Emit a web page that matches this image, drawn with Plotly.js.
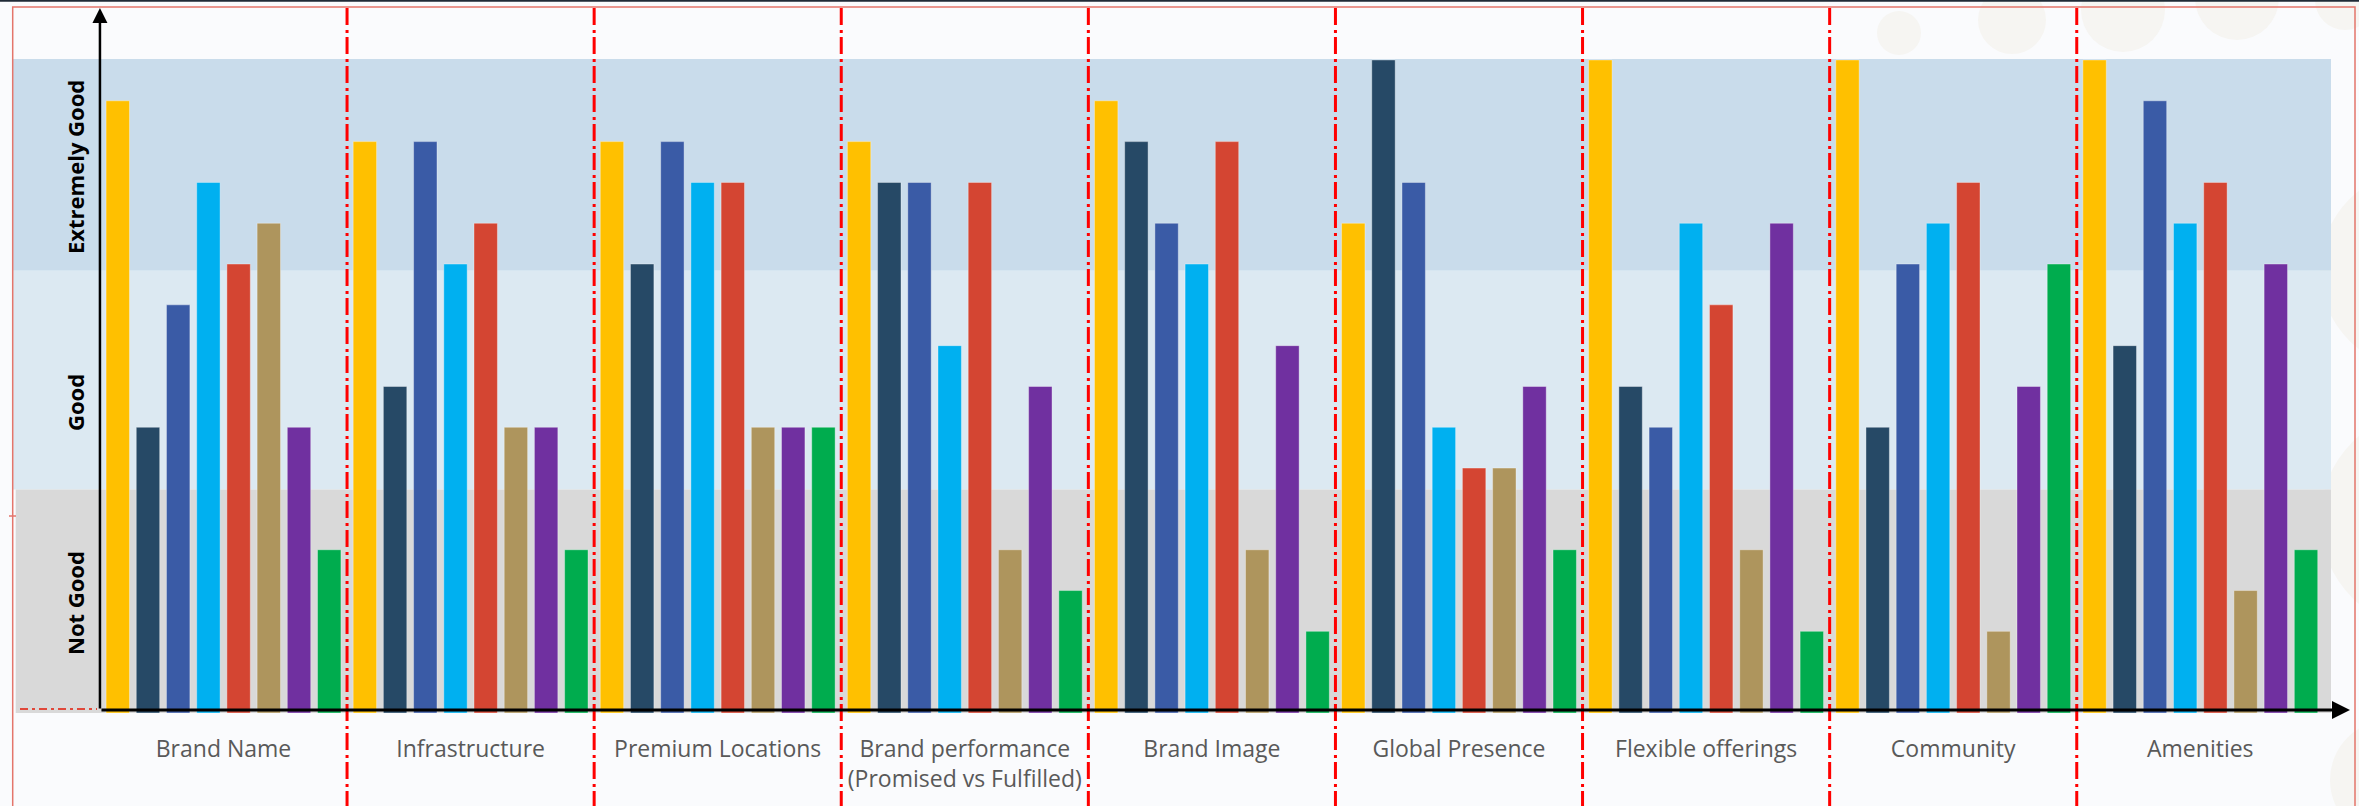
<!DOCTYPE html>
<html>
<head>
<meta charset="utf-8">
<script src="https://cdn.plot.ly/plotly-3.0.1.min.js"></script>
<style>
html,body{margin:0;padding:0;background:#FAFBFD;}
#chart{width:2359px;height:806px;}
</style>
</head>
<body>
<div id="chart"></div>
<script>
// ---- data ----
const categories = ["Brand Name", "Infrastructure", "Premium Locations",
  "Brand performance<br>(Promised vs Fulfilled)", "Brand Image", "Global Presence",
  "Flexible offerings", "Community", "Amenities"];
const seriesYellow = [15, 14, 14, 14, 15, 12, 16, 16, 16];
const seriesNavy   = [7, 8, 11, 13, 14, 16, 8, 7, 9];
const seriesBlue   = [10, 14, 14, 13, 12, 13, 7, 11, 15];
const seriesCyan   = [13, 11, 13, 9, 11, 7, 12, 12, 12];
const seriesRed    = [11, 12, 13, 13, 14, 6, 10, 13, 13];
const seriesTan    = [12, 7, 7, 4, 4, 6, 4, 2, 3];
const seriesPurple = [7, 7, 7, 8, 9, 8, 12, 8, 11];
const seriesGreen  = [4, 4, 7, 3, 2, 4, 2, 11, 4];
const bandLabels = ["Extremely Good", "Good", "Not Good"];

// ---- styling ----
const seriesList = [seriesYellow, seriesNavy, seriesBlue, seriesCyan, seriesRed, seriesTan, seriesPurple, seriesGreen];
const seriesColors = ['#FFC000', '#264966', '#3A5BA6', '#00B0F0', '#D44532', '#AE955D', '#7030A0', '#00AC4E'];

const W = 2359, H = 806;
const ML = 10, MR = 9, MT = 0, MB = 93;
const PW = W - ML - MR, PH = H - MT - MB;
const X0PX = 223.5, XSTEP = 247.1;          // px of category 0 centre, px per category
const YMAX = 17.47;
const YSTEP = PH / YMAX;
const px2x = px => (px - X0PX) / XSTEP;
const py2y = py => (H - MB - py) / YSTEP;
const px2p = px => (px - ML) / PW;
const py2p = py => (H - MB - py) / PH;

const traces = seriesList.map((vals, i) => ({
  type: 'bar',
  x: categories,
  y: vals,
  marker: {color: seriesColors[i], line: {color: 'rgba(255,255,255,0.35)', width: 1}},
  showlegend: false,
  hoverinfo: 'skip'
}));

const shapes = [];
// decorative faint circles
[[1899, 33, 22], [2012, 20, 34], [2123, 10, 42], [2237, -2, 42], [2345, 0, 30],
 [2420, 270, 100], [2430, 520, 110], [2390, 780, 60]].forEach(c => {
  shapes.push({type: 'circle', xref: 'paper', yref: 'paper', layer: 'below',
    x0: px2p(c[0] - c[2]), x1: px2p(c[0] + c[2]), y0: py2p(c[1] + c[2]), y1: py2p(c[1] - c[2]),
    fillcolor: '#F6F5F2', line: {width: 0}});
});
// bands
shapes.push({type: 'rect', xref: 'x', yref: 'y', layer: 'below', x0: px2x(12.7), x1: px2x(2331),
  y0: py2y(270.7), y1: py2y(59), fillcolor: '#C9DCEB', line: {width: 0}});
shapes.push({type: 'rect', xref: 'x', yref: 'y', layer: 'below', x0: px2x(12.7), x1: px2x(2331),
  y0: py2y(489.5), y1: py2y(270.7), fillcolor: '#DCE9F2', line: {width: 0}});
shapes.push({type: 'rect', xref: 'x', yref: 'y', layer: 'below', x0: px2x(15.7), x1: px2x(2331),
  y0: py2y(713), y1: py2y(489.5), fillcolor: '#D9D9D9', line: {width: 0}});
// category dividers
for (let i = 0; i < categories.length - 1; i++) {
  shapes.push({type: 'line', xref: 'x', yref: 'paper', layer: 'above',
    x0: i + 0.5, x1: i + 0.5, y0: py2p(8), y1: py2p(806),
    line: {color: '#FF0000', width: 3, dash: '17px,5px,3px,4px'}});
}
// red dash-dot at baseline left of axis
shapes.push({type: 'line', xref: 'x', yref: 'y', layer: 'above',
  x0: px2x(20), x1: px2x(97), y0: py2y(709), y1: py2y(709),
  line: {color: '#E0483A', width: 2, dash: '8px,4px,3px,4px'}});
// outer frame
shapes.push({type: 'rect', xref: 'paper', yref: 'paper', layer: 'above',
  x0: px2p(12.7), x1: px2p(2355), y0: py2p(830), y1: py2p(7),
  line: {color: '#E4756B', width: 1.5}, fillcolor: 'rgba(0,0,0,0)'});
shapes.push({type: 'line', xref: 'paper', yref: 'paper', layer: 'above',
  x0: px2p(0), x1: px2p(W), y0: py2p(0.8), y1: py2p(0.8),
  line: {color: '#1F2A36', width: 2}});
shapes.push({type: 'line', xref: 'paper', yref: 'paper', layer: 'above',
  x0: px2p(9), x1: px2p(16), y0: py2p(516), y1: py2p(516),
  line: {color: '#E4756B', width: 1.5}});

const annotations = [];
// axes arrows
annotations.push({xref: 'x', yref: 'y', axref: 'x', ayref: 'y', text: '',
  x: -0.5, y: py2y(8), ax: -0.5, ay: py2y(710),
  showarrow: true, arrowhead: 2, arrowsize: 1.2, arrowwidth: 2.5, arrowcolor: '#000000'});
annotations.push({xref: 'x', yref: 'y', axref: 'x', ayref: 'y', text: '',
  x: px2x(2350), y: py2y(710), ax: -0.5, ay: py2y(710),
  showarrow: true, arrowhead: 2, arrowsize: 1.2, arrowwidth: 3, arrowcolor: '#000000'});
// band labels
[[bandLabels[0], 167], [bandLabels[1], 403], [bandLabels[2], 603]].forEach(b => {
  annotations.push({xref: 'paper', yref: 'y', x: px2p(75), y: py2y(b[1]),
    text: b[0], showarrow: false, textangle: -90, xanchor: 'center', yanchor: 'middle',
    font: {family: 'Open Sans', size: 22, weight: 700, color: '#000000'}});
});

const layout = {
  width: W, height: H,
  margin: {l: ML, r: MR, t: MT, b: MB, pad: 0},
  paper_bgcolor: '#FAFBFD',
  plot_bgcolor: 'rgba(0,0,0,0)',
  barmode: 'group',
  bargap: 0.022,
  bargroupgap: 0.225,
  xaxis: {
    type: 'category',
    range: [px2x(ML), px2x(W - MR)],
    showgrid: false, zeroline: false, showline: false, ticks: '',
    tickfont: {family: 'Open Sans', size: 23, color: '#595959'},
    ticklabelstandoff: 20,
    automargin: false, fixedrange: true
  },
  yaxis: {
    range: [0, YMAX],
    showgrid: false, zeroline: false, showline: false, showticklabels: false, ticks: '',
    automargin: false, fixedrange: true
  },
  shapes: shapes,
  annotations: annotations
};

Plotly.newPlot('chart', traces, layout, {staticPlot: true, displayModeBar: false});
</script>
</body>
</html>
